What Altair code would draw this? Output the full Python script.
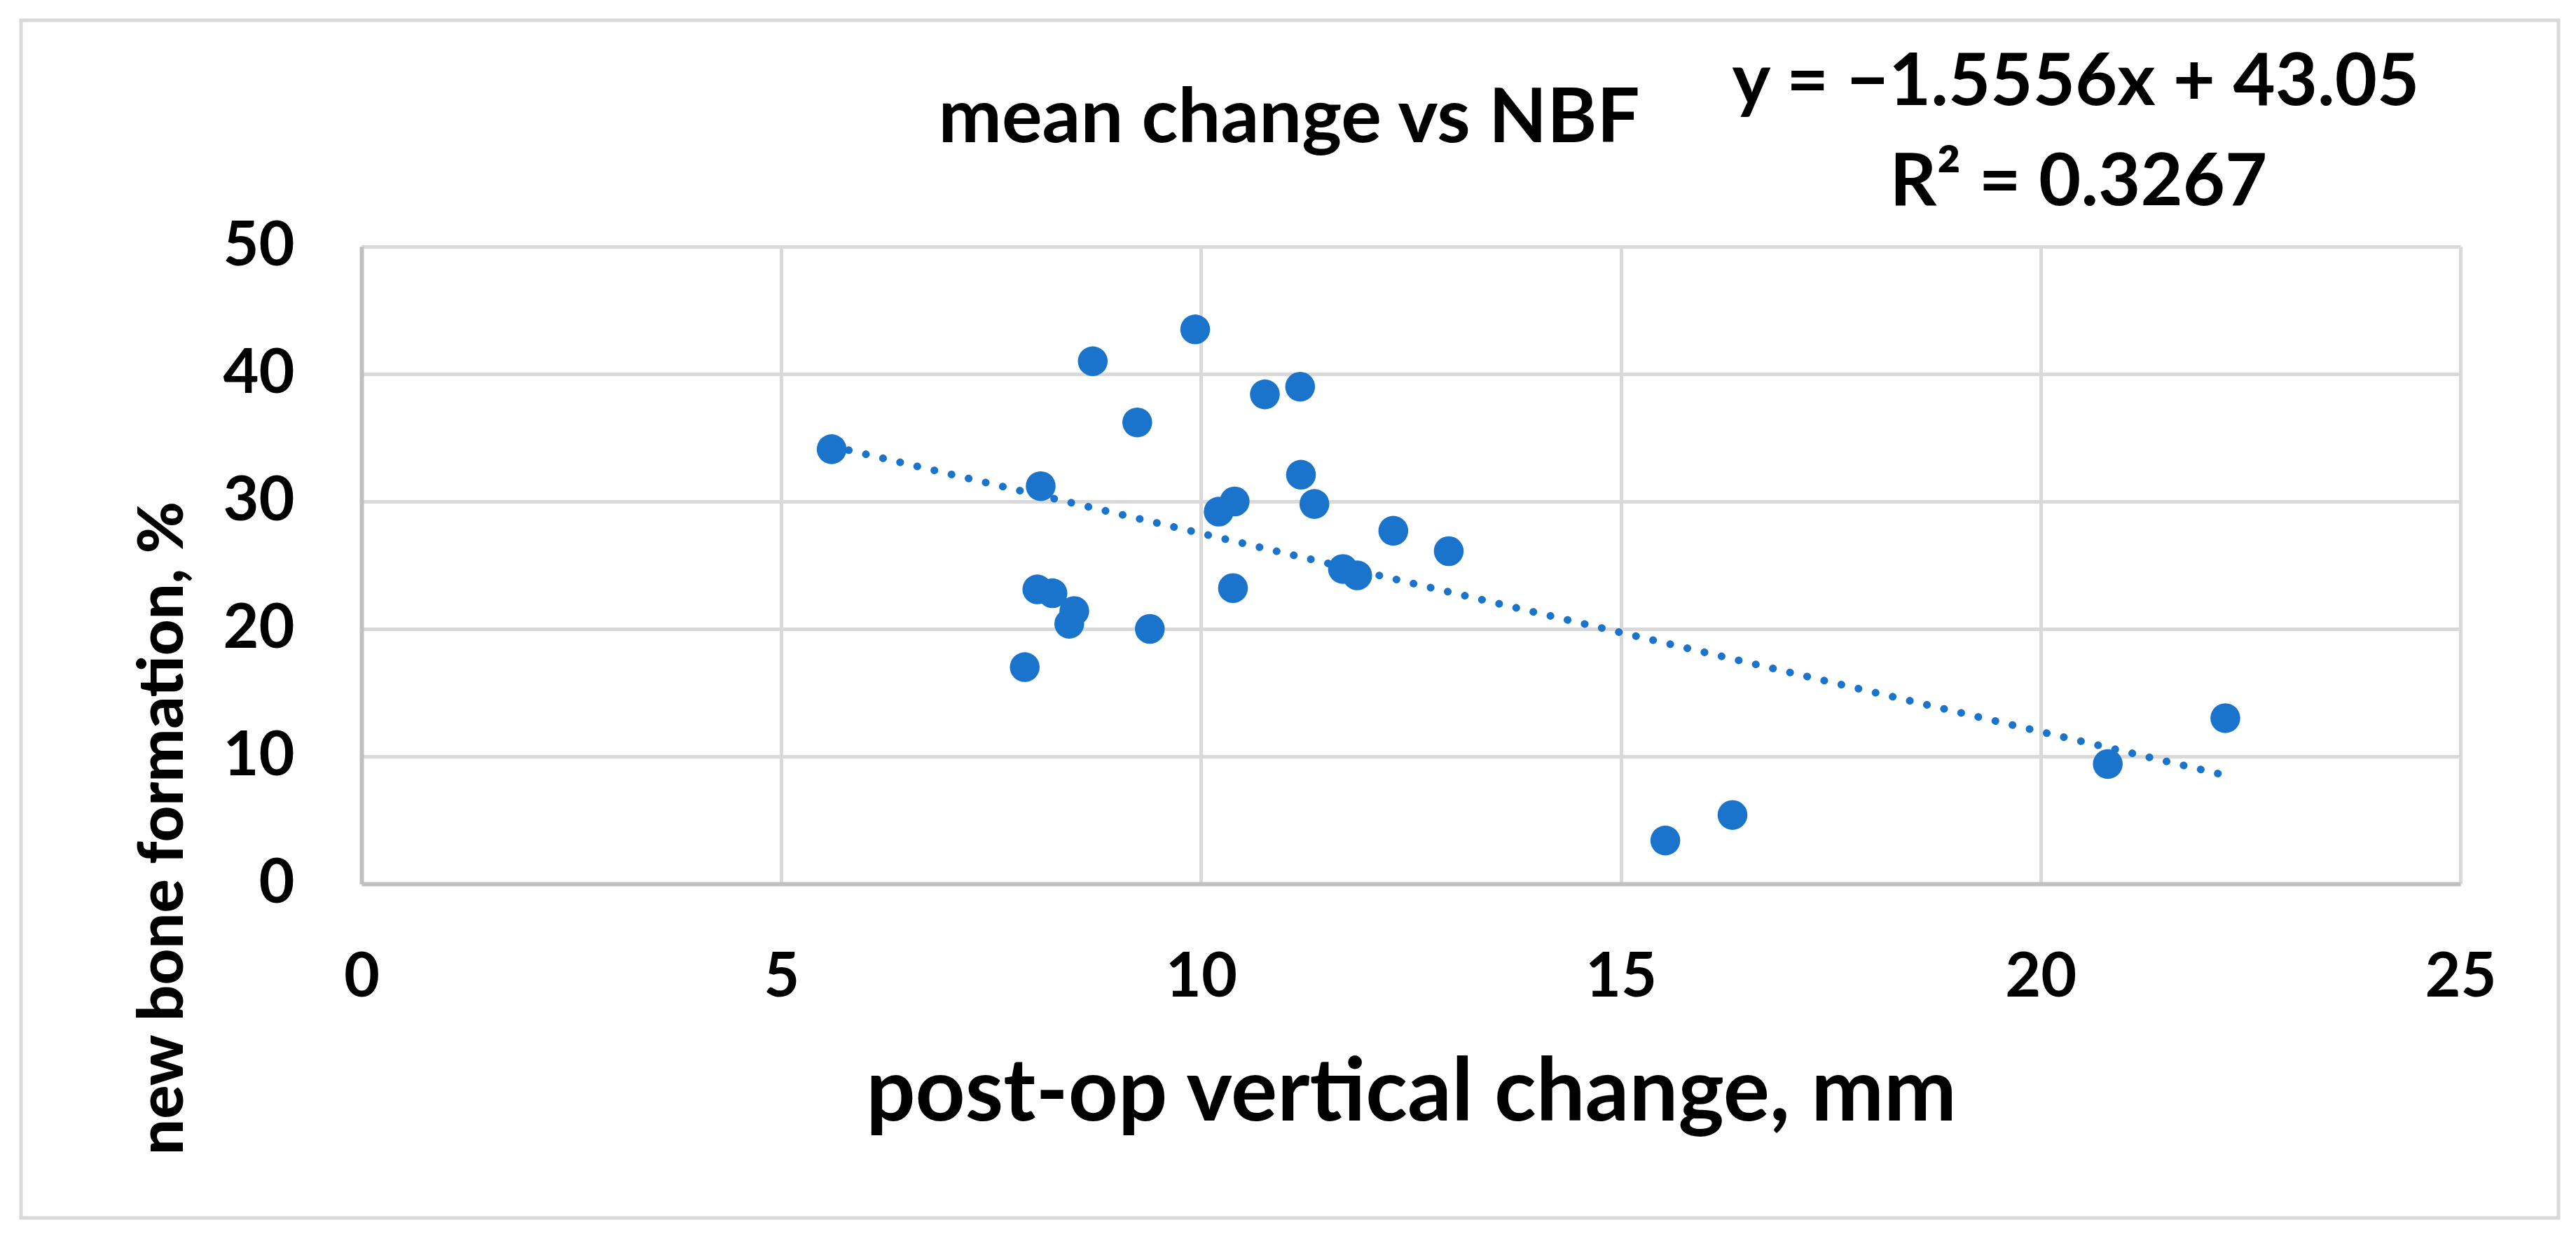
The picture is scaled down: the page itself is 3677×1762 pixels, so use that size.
import altair as alt
import pandas as pd

# ---- data ----
x_change = [5.60, 8.09, 8.71, 9.24, 9.93, 10.76, 11.18, 11.19, 10.40, 10.21, 11.35, 12.29, 12.95,
            11.69, 11.86, 10.38, 8.05, 8.23, 8.49, 8.43, 9.39, 7.90, 15.53, 16.33, 20.80, 22.20]
nbf = [34.1, 31.2, 41.0, 36.2, 43.5, 38.4, 39.0, 32.1, 30.0, 29.2, 29.8, 27.7, 26.1,
       24.7, 24.2, 23.2, 23.1, 22.8, 21.4, 20.4, 20.0, 17.0, 3.4, 5.4, 9.4, 13.0]
slope = -1.5556
intercept = 43.05
x_ticks = [0, 5, 10, 15, 20, 25]
y_ticks = [0, 10, 20, 30, 40, 50]
title_text = ["mean change vs NBF"]
eq_text = ["y = \u22121.5556x + 43.05"]
r2_text = ["R\u00b2 = 0.3267"]
x_title = "post-op vertical change, mm"
y_title = "new bone formation, %"

df = pd.DataFrame({"x": x_change, "y": nbf})

W, H = 2996, 910
PAD_L, PAD_T = 508, 344
PAD_R, PAD_B = 3661 - PAD_L - W, 1746 - PAD_T - H

BLUE = "#1a74cc"
FONT = "Lato"

x_axis = alt.Axis(values=x_ticks, format="d", title=x_title, grid=True, gridColor="#d9d9d9", gridWidth=5,
                  domainColor="#bfbfbf", domainWidth=6, ticks=False, tickSize=0,
                  labelFont=FONT, labelFontSize=88, labelFontWeight="bold", labelColor="black",
                  labelPadding=160, labelBaseline="alphabetic", labelFlush=False,
                  titleFont=FONT, titleFontSize=124, titleFontWeight="bold", titleColor="black",
                  titleX=W / 2, titleY=337, titleAlign="center", titleBaseline="alphabetic")
y_axis = alt.Axis(values=y_ticks, format="d", title=y_title, grid=True, gridColor="#d9d9d9", gridWidth=5,
                  domainColor="#bfbfbf", domainWidth=6, ticks=False, tickSize=0,
                  labelFont=FONT, labelFontSize=88, labelFontWeight="bold", labelColor="black",
                  labelPadding=96, labelFlush=False,
                  titleFont=FONT, titleFontSize=90, titleFontWeight=900,
                  titleColor="black", titleAngle=270, titleX=-256, titleY=830,
                  titleAlign="center", titleBaseline="alphabetic")

xs = alt.Scale(domain=[0, 25], nice=False, zero=False)
ys = alt.Scale(domain=[0, 50], nice=False, zero=False)

points = alt.Chart(df).mark_circle(size=1810, opacity=1, color=BLUE).encode(
    x=alt.X("x:Q", scale=xs, axis=x_axis),
    y=alt.Y("y:Q", scale=ys, axis=y_axis),
)

trend = alt.Chart(df).transform_calculate(
    ty=f"{slope} * datum.x + {intercept}"
).mark_line(color=BLUE, strokeWidth=11, strokeCap="round", strokeDash=[0.1, 25]).encode(
    x=alt.X("x:Q", scale=xs),
    y=alt.Y("ty:Q", scale=ys),
)

def label(texts, px, py, size):
    return alt.Chart(pd.DataFrame({"t": texts})).mark_text(
        font=FONT, fontSize=size, fontWeight="bold", color="black",
        align="center", baseline="alphabetic"
    ).encode(text="t:N", x=alt.value(px), y=alt.value(py))

title = label(title_text, 1840 - 516, 203 - 352, 108)
eq1 = label(eq_text, 2963 - 516, 150 - 352, 104)
eq2 = label(r2_text, 2967 - 516, 293 - 352, 104)

border = alt.Chart(pd.DataFrame({"a": [0]})).mark_rect(
    fillOpacity=0, stroke="#d9d9d9", strokeWidth=5
).encode(x=alt.value(30 - 516), x2=alt.value(3652 - 516),
         y=alt.value(29 - 352), y2=alt.value(1739 - 352))

chart = alt.layer(border, points, trend, title, eq1, eq2).properties(
    width=W, height=H,
    padding={"left": PAD_L, "top": PAD_T, "right": PAD_R, "bottom": PAD_B},
    autosize=alt.AutoSizeParams(type="none"),
    background="white",
).configure_view(strokeWidth=0)

chart.save("out.html", embed_options={"renderer": "svg", "actions": False})
